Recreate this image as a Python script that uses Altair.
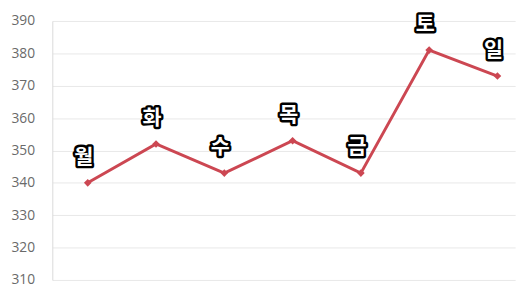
import altair as alt
import pandas as pd

days = ["월", "화", "수", "목", "금", "토", "일"]
values = [340, 352, 343, 353, 343, 381, 373]

df = pd.DataFrame({"day": days, "value": values})

x = alt.X("day:N", sort=days,
          scale=alt.Scale(type="point", padding=0.389, align=0.667),
          axis=None)
y = alt.Y("value:Q",
          scale=alt.Scale(domain=[310, 390], nice=False, zero=False),
          axis=alt.Axis(values=list(range(310, 391, 10)), grid=True,
                        gridColor="#e8e8e8", domainColor="#d9d9d9",
                        ticks=False, labelPadding=18, labelColor="#6a6a6a",
                        labelFontSize=14, labelFont="Open Sans", title=None))

base = alt.Chart(df).encode(x=x, y=y)
red = "#cc4752"
line = base.mark_line(color=red, strokeWidth=3)
pts = base.mark_point(shape="diamond", filled=True, size=60, color=red, opacity=1)
txt_kw = dict(dy=-25, dx=-4, font="Noto Sans CJK KR", fontWeight="bold", fontSize=21)
halo = base.mark_text(stroke="black", strokeWidth=5, fill="black", strokeJoin="round", **txt_kw).encode(text="day:N")
txt = base.mark_text(fill="white", **txt_kw).encode(text="day:N")

chart = (line + pts + halo + txt).properties(
    width=470, height=263,
    autosize=alt.AutoSizeParams(type="none"),
    padding={"left": 45, "top": 11, "right": 8, "bottom": 6},
).configure(background="white", view=alt.ViewConfig(stroke=None))

chart.save("out.html", embed_options={"renderer": "svg", "actions": False})
